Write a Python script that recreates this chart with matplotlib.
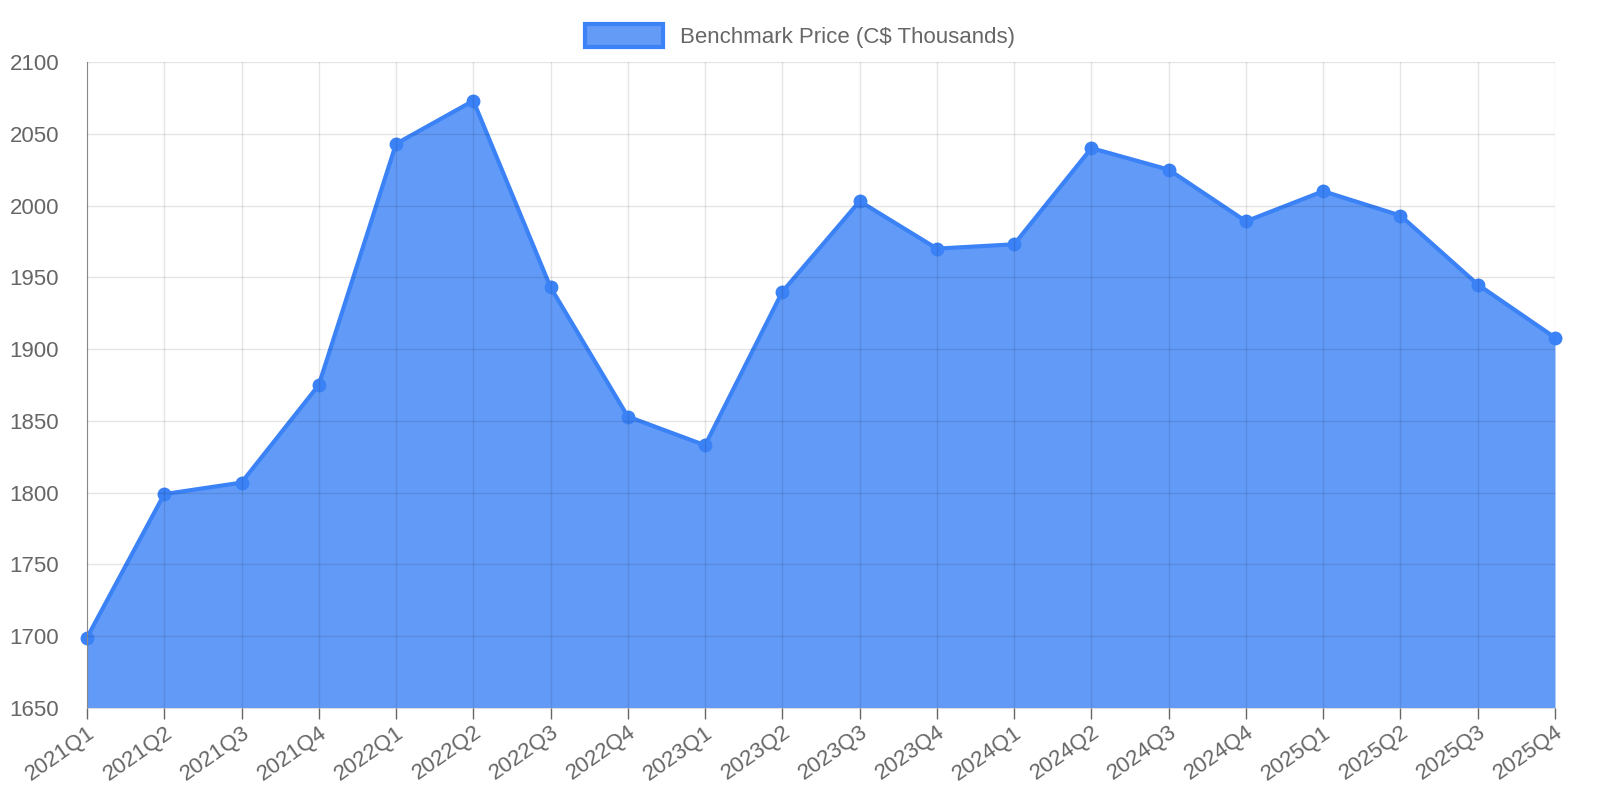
import matplotlib.pyplot as plt
from matplotlib.patches import Patch

plt.rcParams['font.family'] = ['Liberation Sans', 'DejaVu Sans']

quarters = [f"{y}Q{q}" for y in range(2021, 2026) for q in range(1, 5)]
prices = [1699, 1799, 1807, 1875, 2043, 2073, 1943, 1853, 1833, 1940,
          2003, 1970, 1973, 2040, 2025, 1989, 2010, 1993, 1945, 1908]

blue = '#3b82f6'
grey = '#666666'

fig = plt.figure(figsize=(16, 8), dpi=100)
ax = fig.add_axes([87 / 1600, 1 - 708 / 800, (1555 - 87) / 1600, (708 - 62) / 800])

x = range(len(quarters))
ax.fill_between(x, prices, 1650, color=blue, alpha=0.8, linewidth=0)
ax.plot(x, prices, color=blue, linewidth=3, marker='o', markersize=9,
        markerfacecolor=blue, markeredgecolor=blue, clip_on=False)

ax.set_xlim(0, len(quarters) - 1)
ax.set_ylim(1650, 2100)
ax.set_yticks(range(1650, 2101, 50))
ax.set_xticks(list(x))
ax.set_xticklabels(quarters, rotation=35, ha='right', rotation_mode='anchor')
ax.tick_params(colors=grey, labelsize=16, length=8, width=1)
ax.tick_params(axis='x', pad=2)
ax.tick_params(axis='y', length=0, pad=20)
ax.grid(True, color='#000000', alpha=0.1, linewidth=1)
ax.set_axisbelow(False)
for side in ['top', 'right']:
    ax.spines[side].set_visible(False)
ax.spines['left'].set_color('#999999')
ax.spines['bottom'].set_color('#dddddd')

handle = Patch(facecolor='#639bf6', edgecolor=blue, linewidth=3)
fig.legend([handle], ['Benchmark Price (C$ Thousands)'], loc='upper center',
           bbox_to_anchor=(0.5, 0.995), frameon=False, fontsize=16,
           labelcolor=grey, handlelength=3.5, handleheight=1.2)

fig.savefig('out.png', dpi=100)
